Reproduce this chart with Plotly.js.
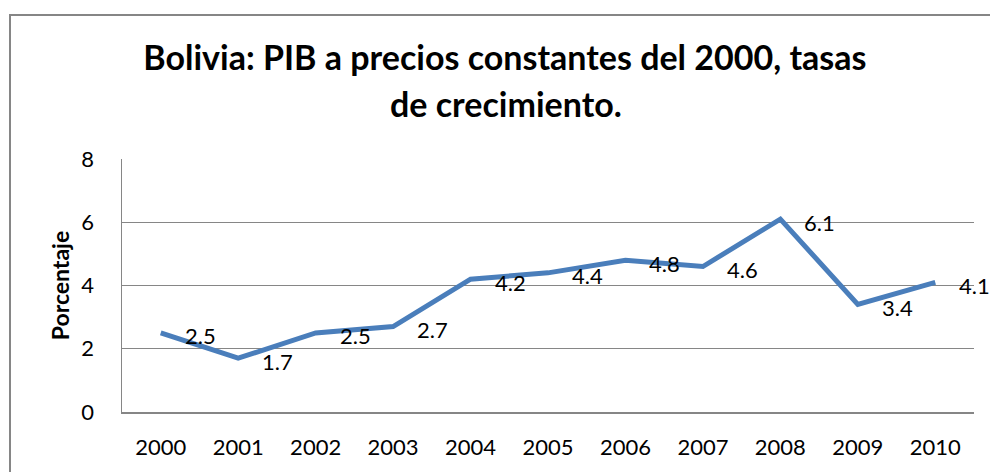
<!DOCTYPE html>
<html>
<head>
<meta charset="utf-8">
<script src="https://cdn.plot.ly/plotly-3.0.1.min.js"></script>
<style>
html,body{margin:0;padding:0;background:#fff;}
#chart{width:990px;height:472px;}
</style>
</head>
<body>
<div id="chart"></div>
<script>
const years = ["2000","2001","2002","2003","2004","2005","2006","2007","2008","2009","2010"];
const growth = [2.5, 1.7, 2.5, 2.7, 4.2, 4.4, 4.8, 4.6, 6.1, 3.4, 4.1];
const yTicks = [0, 2, 4, 6, 8];
const titleLine1 = "Bolivia: PIB a precios constantes del 2000, tasas";
const titleLine2 = "de crecimiento.";
const yTitle = "Porcentaje";

const FONT = "Lato, 'Open Sans', sans-serif";

const trace = {
  x: years,
  y: growth,
  type: "scatter",
  mode: "lines",
  line: {color: "#4A7EBB", width: 5},
  hoverinfo: "skip"
};

const labelAnns = years.map((yr, i) => ({
  x: i, y: growth[i], xref: "x", yref: "y",
  text: growth[i].toFixed(1),
  showarrow: false, xanchor: "left", yanchor: "middle",
  xshift: 22, yshift: -3,
  font: {family: FONT, size: 22, color: "#000"}
}));

const layout = {
  width: 990, height: 472,
  margin: {l: 122, r: 16, t: 159, b: 60},
  paper_bgcolor: "#fff", plot_bgcolor: "#fff",
  showlegend: false,
  font: {family: FONT, color: "#000"},
  title: {
    text: "<b>" + titleLine1 + "</b>",
    x: 0.51, xref: "container", xanchor: "center",
    y: 1 - 58/472, yref: "container", yanchor: "middle",
    font: {family: FONT, size: 34, color: "#000"}
  },
  xaxis: {
    type: "category",
    range: [-0.5, 10.5],
    showgrid: false,
    showline: true, linecolor: "#868686", linewidth: 1.5,
    ticks: "", ticklabelstandoff: 15,
    tickfont: {family: FONT, size: 22, color: "#000"},
    fixedrange: true, zeroline: false
  },
  yaxis: {
    range: [0, 8],
    tickvals: yTicks,
    showgrid: true, gridcolor: "#868686", gridwidth: 1.2,
    showline: true, linecolor: "#868686", linewidth: 1.5,
    zeroline: false,
    ticks: "", ticklabelstandoff: 22,
    tickfont: {family: FONT, size: 22, color: "#000"},
    title: {text: "<b>" + yTitle + "</b>", standoff: 5, font: {family: FONT, size: 23, color: "#000"}},
    fixedrange: true
  },
  annotations: [
    {
      text: "<b>" + titleLine2 + "</b>",
      xref: "paper", yref: "paper",
      x: (506 - 122) / 852, y: (412 - 104) / 253,
      xanchor: "center", yanchor: "middle", showarrow: false,
      font: {family: FONT, size: 34, color: "#000"}
    }
  ].concat(labelAnns),
  shapes: [
    {
      type: "rect", xref: "paper", yref: "paper",
      x0: (10 - 122) / 852, x1: (1010 - 122) / 852,
      y0: (412 - 490) / 253, y1: (412 - 15) / 253,
      line: {color: "#868686", width: 2}, fillcolor: "rgba(0,0,0,0)",
      layer: "below"
    }
  ]
};

Plotly.newPlot("chart", [trace], layout, {displayModeBar: false, staticPlot: true});
</script>
</body>
</html>
